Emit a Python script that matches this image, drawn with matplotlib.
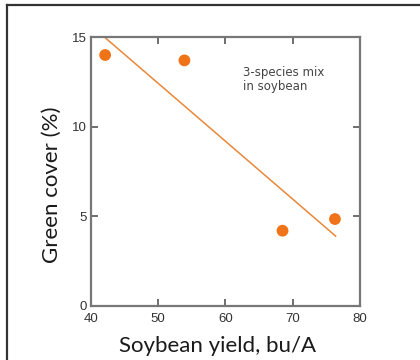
import matplotlib.pyplot as plt
from matplotlib.lines import Line2D

# values
yield_bu = [42.1, 53.9, 68.5, 76.3]
green_cover = [14.0, 13.7, 4.2, 4.85]
fit_x = [42.0, 76.4]
fit_y = [15.0, 3.9]

x_ticks = [40, 50, 60, 70, 80]
y_ticks = [0, 5, 10, 15]

fig = plt.figure(figsize=(4.2, 3.6), dpi=100)
ax = fig.add_axes([0.2167, 0.15, 0.640, 0.747])

ax.plot(fit_x, fit_y, color="#E8873A", linewidth=1.1, zorder=2)
ax.scatter(yield_bu, green_cover, s=72, color="#F07417", edgecolors="none", zorder=3)

ax.set_xlim(40, 80)
ax.set_ylim(0, 15)
ax.set_xticks(x_ticks)
ax.set_yticks(y_ticks)
ax.tick_params(direction="in", top=True, right=True, length=5, width=1.2,
               color="#555555", labelsize=9.5, labelcolor="#333333")
ax.tick_params(axis="x", pad=5)
ax.tick_params(axis="y", pad=3)
for lbl in ax.get_xticklabels() + ax.get_yticklabels():
    lbl.set_family("Liberation Sans")
for s in ax.spines.values():
    s.set_color("#777777")
    s.set_linewidth(1.6)

ax.set_xlabel("Soybean yield, bu/A", fontsize=16, family="Lato", color="#1a1a1a", labelpad=8)
ax.set_ylabel("Green cover (%)", fontsize=16, family="Lato", color="#1a1a1a", labelpad=7)
ax.xaxis.label.set_x(0.472)
ax.yaxis.label.set_y(0.45)

ax.text(62.6, 13.4, "3-species mix\nin soybean", fontsize=8.5, family="DejaVu Sans",
        color="#444444", va="top", ha="left", linespacing=1.1)

# frame around the figure (top and left visible)
fig.add_artist(Line2D([7 / 420, 1.0], [1 - 5 / 360, 1 - 5 / 360], color="#333333", linewidth=1.6))
fig.add_artist(Line2D([7 / 420, 7 / 420], [0.0, 1 - 5 / 360], color="#333333", linewidth=1.6))

fig.savefig("out.png", dpi=100)
